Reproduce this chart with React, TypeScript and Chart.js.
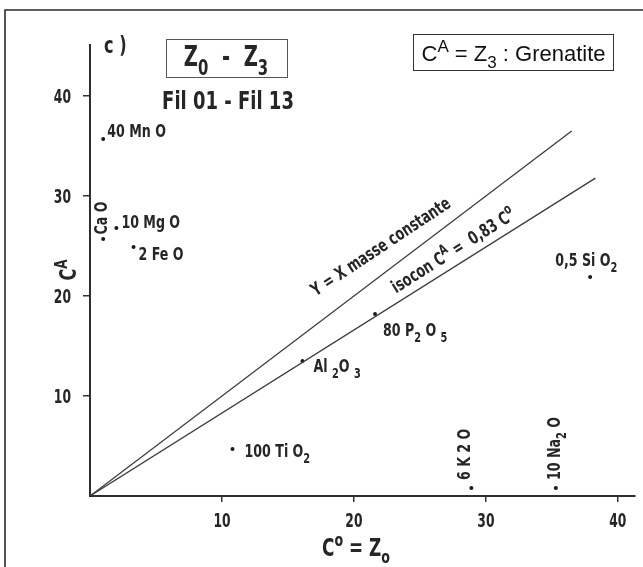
import React, { useEffect, useRef } from 'react';
import { Chart, registerables } from 'chart.js';

Chart.register(...registerables);

// ---- data ----
const oxideNames = ['MnO', 'CaO', 'MgO', 'FeO', 'Al2O3', 'P2O5', 'SiO2', 'TiO2', 'K2O', 'Na2O'];
const coValues = [1.0, 1.0, 2.0, 3.3, 16.1, 21.6, 37.9, 10.8, 28.9, 35.3]; // C° = Z0
const caValues = [35.7, 25.7, 26.8, 24.9, 13.5, 18.2, 21.9, 4.7, 0.8, 0.8]; // CA = Z3
const xTickValues = [10, 20, 30, 40];
const yTickValues = [10, 20, 30, 40];
const constantMassEnd = 36.5; // Y = X line end
const isoconSlope = 0.83;
const isoconEnd = 38.3;

type Part = { t: string; s?: 'sub' | 'sup' };

// labels as printed (scaling factor + oxide)
const oxideLabels: Part[][] = [
  [{ t: '40 Mn O' }],
  [{ t: 'Ca O' }],
  [{ t: '10 Mg O' }],
  [{ t: '2 Fe O' }],
  [{ t: 'Al ' }, { t: '2', s: 'sub' }, { t: 'O ' }, { t: '3', s: 'sub' }],
  [{ t: '80 P' }, { t: '2', s: 'sub' }, { t: ' O ' }, { t: '5', s: 'sub' }],
  [{ t: '0,5 Si O' }, { t: '2', s: 'sub' }],
  [{ t: '100 Ti O' }, { t: '2', s: 'sub' }],
  [{ t: '6 K ' }, { t: '2' }, { t: ' O' }],
  [{ t: '10 Na' }, { t: '2', s: 'sub' }, { t: ' O' }],
];

// label placement relative to the point (style only)
const labelPlace = [
  { dx: 4, dy: -8, rot: 0, align: 'left' },
  { dx: -3, dy: -21, rot: -90, align: 'center' },
  { dx: 5, dy: -6, rot: 0, align: 'left' },
  { dx: 5, dy: 7, rot: 0, align: 'left' },
  { dx: 11, dy: 5, rot: 0, align: 'left' },
  { dx: 8, dy: 16, rot: 0, align: 'left' },
  { dx: -35, dy: -17, rot: 0, align: 'left' },
  { dx: 12, dy: 2, rot: 0, align: 'left' },
  { dx: -8, dy: -8, rot: -90, align: 'left' },
  { dx: -2, dy: -8, rot: -90, align: 'left' },
];

const COND = "'DejaVu Sans Condensed', 'DejaVu Sans', sans-serif";
const ARIAL = "'Liberation Sans', Arial, sans-serif";
const INK = '#262626';

function drawRich(
  ctx: CanvasRenderingContext2D,
  parts: Part[],
  x: number,
  y: number,
  size: number,
  opts: { align?: string; rotate?: number; family?: string; weight?: string; color?: string; hs?: number } = {}
) {
  const { align = 'left', rotate = 0, family = COND, weight = 'bold', color = INK, hs = 0.78 } = opts;
  ctx.save();
  ctx.translate(x, y);
  ctx.rotate(rotate);
  ctx.scale(hs, 1);
  ctx.fillStyle = color;
  ctx.textBaseline = 'alphabetic';
  ctx.textAlign = 'left';
  const fontFor = (p: Part) => `${weight} ${p.s ? Math.round(size * 0.75) : size}px ${family}`;
  let total = 0;
  for (const p of parts) {
    ctx.font = fontFor(p);
    total += ctx.measureText(p.t).width;
  }
  let cx = align === 'center' ? -total / 2 : align === 'right' ? -total : 0;
  const base = size * 0.36;
  for (const p of parts) {
    ctx.font = fontFor(p);
    const dy = p.s === 'sub' ? size * 0.3 : p.s === 'sup' ? -size * 0.42 : 0;
    ctx.fillText(p.t, cx, base + dy);
    cx += ctx.measureText(p.t).width;
  }
  ctx.restore();
}

const annotations = {
  id: 'annotations',
  afterDatasetsDraw(chart: any) {
    const ctx: CanvasRenderingContext2D = chart.ctx;
    const xs = chart.scales.x;
    const ys = chart.scales.y;
    const px = (v: number) => xs.getPixelForValue(v);
    const py = (v: number) => ys.getPixelForValue(v);

    // outer frame of the scanned figure
    ctx.save();
    ctx.strokeStyle = '#2a2a2a';
    ctx.lineWidth = 1.6;
    ctx.beginPath();
    ctx.moveTo(5, 567);
    ctx.lineTo(5, 10);
    ctx.lineTo(643, 10);
    ctx.stroke();
    ctx.restore();

    // tick labels, at the scales' tick positions
    xs.ticks.forEach((t: any) => {
      drawRich(ctx, [{ t: String(t.value) }], px(t.value), 520, 19, { align: 'center', hs: 0.72 });
    });
    ys.ticks.forEach((t: any) => {
      drawRich(ctx, [{ t: String(t.value) }], 71, py(t.value), 19, { align: 'right', hs: 0.72 });
    });

    // title block
    drawRich(ctx, [{ t: 'c )' }], 104, 45, 23);
    ctx.save();
    ctx.strokeStyle = '#555';
    ctx.lineWidth = 1;
    ctx.strokeRect(166.5, 39.5, 121, 38);
    ctx.restore();
    drawRich(ctx, [{ t: 'Z' }, { t: '0', s: 'sub' }, { t: '  -  Z' }, { t: '3', s: 'sub' }], 226, 56, 29, {
      align: 'center',
      hs: 0.75,
    });
    drawRich(ctx, [{ t: 'Fil 01 - Fil 13' }], 228, 100, 25, { align: 'center', hs: 0.8 });

    // legend box
    ctx.save();
    ctx.strokeStyle = '#333';
    ctx.lineWidth = 1;
    ctx.strokeRect(413.5, 34.5, 200, 36);
    ctx.restore();
    drawRich(
      ctx,
      [{ t: 'C' }, { t: 'A', s: 'sup' }, { t: ' = Z' }, { t: '3', s: 'sub' }, { t: ' : Grenatite' }],
      513.5,
      53,
      22,
      { align: 'center', family: ARIAL, weight: 'normal', color: '#111', hs: 1 }
    );

    // axis titles
    drawRich(ctx, [{ t: 'C' }, { t: 'A', s: 'sup' }], 68, 270, 23, { align: 'center', rotate: -Math.PI / 2 });
    drawRich(ctx, [{ t: 'C' }, { t: 'o', s: 'sup' }, { t: ' = Z' }, { t: 'o', s: 'sub' }], 356, 547, 24, {
      align: 'center',
    });

    // line labels
    drawRich(ctx, [{ t: 'Y = X masse constante' }], px(22), py(22) - 30, 18, {
      align: 'center',
      rotate: (-33.5 * Math.PI) / 180,
    });
    const a2 = Math.atan2(py(isoconSlope * isoconEnd) - py(0), px(isoconEnd) - px(0));
    const c2x = px(28.1), c2y = py(28.1 * isoconSlope);
    drawRich(
      ctx,
      [{ t: 'isocon C' }, { t: 'A', s: 'sup' }, { t: ' =  0,83 C' }, { t: 'o', s: 'sup' }],
      c2x + 15 * Math.sin(a2),
      c2y - 15 * Math.cos(a2),
      18,
      { align: 'center', rotate: a2 }
    );

    // point labels
    coValues.forEach((v, i) => {
      const pl = labelPlace[i];
      drawRich(ctx, oxideLabels[i], px(v) + pl.dx, py(caValues[i]) + pl.dy, 18, {
        align: pl.align,
        rotate: (pl.rot * Math.PI) / 180,
      });
    });
  },
};

export default function App() {
  const ref = useRef<HTMLCanvasElement | null>(null);
  useEffect(() => {
    if (!ref.current) return;
    const points = coValues.map((x, i) => ({ x, y: caValues[i], name: oxideNames[i] }));
    const chart = new Chart(ref.current, {
      type: 'scatter',
      data: {
        datasets: [
          {
            type: 'line',
            label: 'Y = X masse constante',
            data: [
              { x: 0, y: 0 },
              { x: constantMassEnd, y: constantMassEnd },
            ],
            borderColor: '#3c3c3c',
            borderWidth: 1.3,
            pointRadius: 0,
            fill: false,
          },
          {
            type: 'line',
            label: 'isocon',
            data: [
              { x: 0, y: 0 },
              { x: isoconEnd, y: isoconSlope * isoconEnd },
            ],
            borderColor: '#3c3c3c',
            borderWidth: 1.3,
            pointRadius: 0,
            fill: false,
          },
          {
            type: 'scatter',
            label: 'oxydes',
            data: points,
            pointRadius: 2,
            pointBackgroundColor: '#1a1a1a',
            pointBorderWidth: 0,
          },
        ],
      } as any,
      options: {
        animation: false,
        responsive: false,
        devicePixelRatio: 1,
        layout: { padding: { left: 0, top: 45, right: 8, bottom: 0 } },
        plugins: { legend: { display: false }, tooltip: { enabled: false } },
        scales: {
          x: {
            type: 'linear',
            min: 0,
            max: 41.3,
            afterBuildTicks: (s: any) => {
              s.ticks = xTickValues.map((value) => ({ value }));
            },
            afterFit: (s: any) => {
              s.height = 71;
            },
            grid: { drawOnChartArea: false, drawTicks: true, tickLength: 6, color: '#333', lineWidth: 1.5 },
            border: { display: true, color: '#2e2e2e', width: 2 },
            ticks: { display: false },
          },
          y: {
            type: 'linear',
            min: 0,
            max: 45.1,
            afterBuildTicks: (s: any) => {
              s.ticks = yTickValues.map((value) => ({ value }));
            },
            afterFit: (s: any) => {
              s.width = 90;
            },
            grid: { drawOnChartArea: false, drawTicks: true, tickLength: 7, color: '#333', lineWidth: 1.5 },
            border: { display: true, color: '#2e2e2e', width: 2 },
            ticks: { display: false },
          },
        },
      } as any,
      plugins: [annotations],
    });
    return () => chart.destroy();
  }, []);

  return (
    <div style={{ position: 'absolute', left: 0, top: 0, width: 643, height: 567, background: '#fff' }}>
      <canvas ref={ref} width={643} height={567} style={{ display: 'block', width: 643, height: 567 }} />
    </div>
  );
}
